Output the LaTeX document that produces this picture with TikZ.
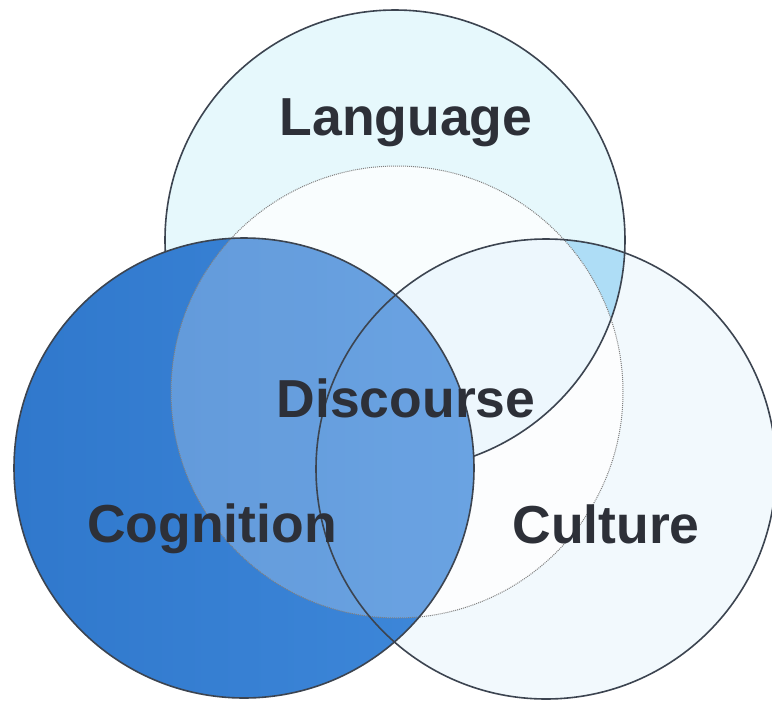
\documentclass[tikz,border=0pt]{standalone}
\usepackage{fontspec}
\setmainfont{Liberation Sans}
\usepackage{xcolor}
\usepackage{tikz}

\definecolor{langfill}{HTML}{E6F8FC}
\definecolor{cultfill}{HTML}{F2F9FD}
\definecolor{bothfill}{HTML}{AEDDF6}
\definecolor{cogdark}{HTML}{3078CC}
\definecolor{coglight}{HTML}{3E88DA}
\definecolor{ringcol}{HTML}{3C4450}
\definecolor{txtcol}{HTML}{2D3038}

\begin{document}
\begin{tikzpicture}[x=1pt, y=-1pt,
    ring/.style={draw=ringcol, line width=1.6pt},
    lbl/.style={font=\fontsize{53.5}{60}\selectfont\bfseries, text=txtcol, anchor=base}]

      \useasboundingbox[fill=white] (0,0) rectangle (772,702);

      \coordinate (L) at (395,240);
      \coordinate (G) at (244,468);
      \coordinate (C) at (546,469);
      \coordinate (D) at (397,392);

      \fill[langfill] (L) circle[radius=230pt];
      \fill[cultfill] (C) circle[radius=230pt];
      \begin{scope}
        \clip (L) circle[radius=230pt];
        \fill[bothfill] (C) circle[radius=230pt];
      \end{scope}

      \fill[white, opacity=.78] (D) circle[radius=226pt];
      \draw[ring] (L) circle[radius=230pt];

      \shade[left color=cogdark, right color=coglight] (G) circle[radius=230pt];
      \begin{scope}
        \clip (D) circle[radius=226pt];
        \fill[white, opacity=.23] (G) circle[radius=230pt];
      \end{scope}

      \draw[gray, densely dotted, line width=1pt] (D) circle[radius=226pt];
      \draw[ring] (C) circle[radius=230pt];
      \draw[ring] (G) circle[radius=230pt];

      \node[lbl] (lang) at (406,135) {Language};
      \node[lbl] (disc) at (406,417) {Discourse};
      \node[lbl] (cogn) at (212,542) {Cognition};
      \node[lbl] (cult) at (606,543) {Culture};

    \end{tikzpicture}
\end{document}
